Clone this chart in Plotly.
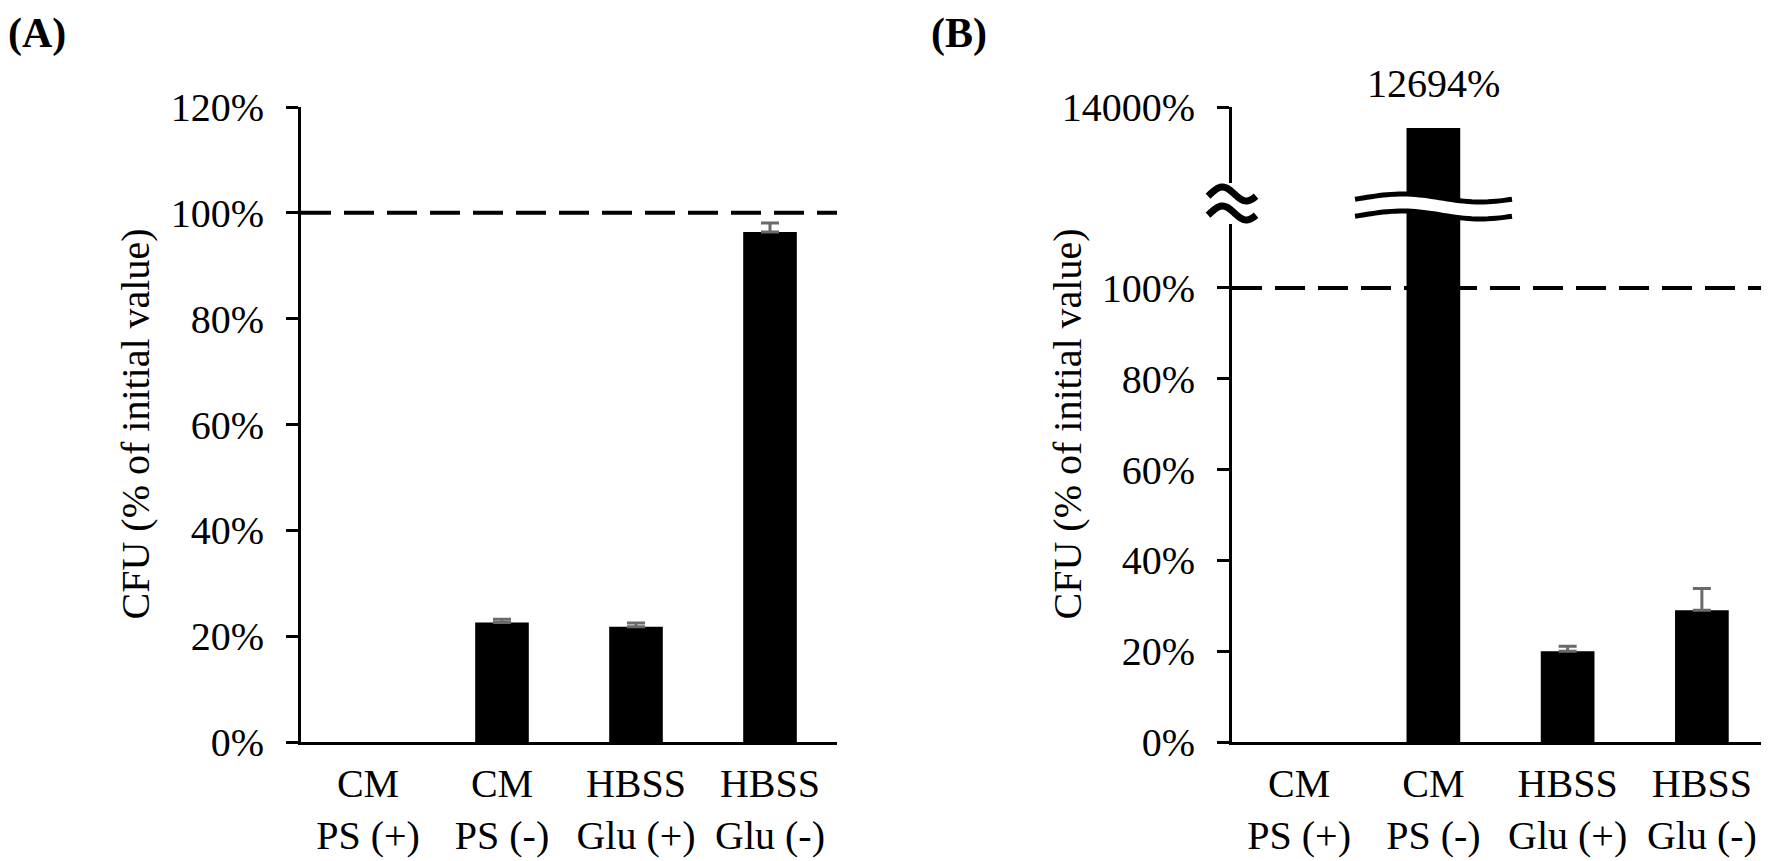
import numpy as np
import plotly.graph_objects as go

# ---- data ----
categories = ["CM<br>PS (+)", "CM<br>PS (-)", "HBSS<br>Glu (+)", "HBSS<br>Glu (-)"]

cfu_a = [0.0, 22.6, 21.8, 96.4]
err_a = [None, 0.6, 0.7, 1.7]

cfu_b = [0.0, 12694.0, 20.0, 29.0]
err_b = [None, None, 1.1, 4.8]

ticks_a = [0, 20, 40, 60, 80, 100, 120]
ticks_b_low = [0, 20, 40, 60, 80, 100]
ticks_b_high = [14000]
ref_line = 100

# the page body has an 8px margin, so the figure is shrunk by it and
# every screen position below is shifted back by OFF
OFF = 8
W, H = 1769 - OFF, 861 - OFF
FONT = "Liberation Serif"
ERR_COLOR = "#6a6a6a"


def px(x):
    return (x - OFF) / W


def py(y):
    return 1 - (y - OFF) / H


def pct(vals):
    return [f"{v}%" for v in vals]


def curve(x0, x1, yc, amp, n=40):
    # sine stroke in screen pixels, returned as paper coords
    t = np.linspace(0, 1, n)
    xs = x0 + (x1 - x0) * t
    ys = yc - amp * np.sin(2 * np.pi * (t - 0.05))
    return [(px(a), py(b)) for a, b in zip(xs, ys)]


def path_of(pts, close=False):
    s = "M " + " L ".join(f"{a:.5f},{b:.5f}" for a, b in pts)
    return s + (" Z" if close else "")


fig = go.Figure()

bar_style = dict(marker=dict(color="black", line=dict(width=0)), showlegend=False,
                 hoverinfo="skip")


def add_panel(vals, errs, xa, ya):
    fig.add_trace(go.Bar(x=categories, y=vals, xaxis=xa, yaxis=ya, **bar_style))
    # invisible copy that only carries the (upper) error bars
    fig.add_trace(go.Bar(
        x=categories, y=[v if e is not None else None for v, e in zip(vals, errs)],
        xaxis=xa, yaxis=ya, showlegend=False, hoverinfo="skip",
        marker=dict(color="rgba(0,0,0,0)", line=dict(width=0)),
        error_y=dict(type="data", symmetric=False, array=errs,
                     arrayminus=[0] * len(errs), color=ERR_COLOR,
                     thickness=3, width=9)))


add_panel(cfu_a, err_a, "x", "y")
add_panel(cfu_b, err_b, "x2", "y2")
# upper part of the broken B axis
fig.add_trace(go.Bar(x=categories, y=cfu_b, xaxis="x2", yaxis="y3", **bar_style))

axis_common = dict(showline=True, linecolor="black", linewidth=3, showgrid=False,
                   zeroline=False, automargin=False,
                   tickfont=dict(family=FONT, size=40, color="black"))
yaxis_common = dict(ticks="outside", ticklen=12, tickwidth=3, tickcolor="black",
                    ticklabelstandoff=14, **axis_common)
xaxis_common = dict(type="category", ticks="", fixedrange=True,
                    ticklabelstandoff=4, **axis_common)

fig.update_layout(
    template="none",
    width=W, height=H,
    margin=dict(l=0, r=0, t=0, b=0, pad=0),
    paper_bgcolor="white", plot_bgcolor="white",
    barmode="overlay", bargap=0.6,
    font=dict(family=FONT, color="black"),
    xaxis=dict(domain=[px(301), px(837)], anchor="y", **xaxis_common),
    yaxis=dict(domain=[py(742), py(107)], anchor="x", range=[0, 120],
               tickvals=ticks_a, ticktext=pct(ticks_a), **yaxis_common),
    xaxis2=dict(domain=[px(1232), 1.0], anchor="y2", **xaxis_common),
    yaxis2=dict(domain=[py(742), py(203)], anchor="x2", range=[0, 118.7],
                tickvals=ticks_b_low, ticktext=pct(ticks_b_low), **yaxis_common),
    yaxis3=dict(domain=[py(203), py(107)], anchor="x2", range=[8030, 14000],
                tickvals=ticks_b_high, ticktext=pct(ticks_b_high), **yaxis_common),
)

# 100 % reference lines
dash = dict(color="black", width=4, dash="30px,13px")
fig.add_shape(type="line", xref="x domain", yref="y", x0=0, x1=1,
              y0=ref_line, y1=ref_line, line=dash)
fig.add_shape(type="line", xref="x2 domain", yref="y2", x0=0, x1=1,
              y0=ref_line, y1=ref_line, line=dash)

# axis break mark on the B axis
fig.add_shape(type="rect", xref="paper", yref="paper",
              x0=px(1222), x1=px(1242), y0=py(224), y1=py(183),
              fillcolor="white", line=dict(width=0), layer="above")
for yc in (194, 213):
    fig.add_shape(type="path", xref="paper", yref="paper",
                  path=path_of(curve(1208, 1256, yc, 7)),
                  line=dict(color="black", width=7), layer="above")

# break through the tall bar
upper = curve(1355, 1512, 198, 4)
lower = curve(1355, 1512, 215, 4)
fig.add_shape(type="path", xref="paper", yref="paper",
              path=path_of(upper + lower[::-1], close=True),
              fillcolor="white", line=dict(width=0), layer="above")
for pts in (upper, lower):
    fig.add_shape(type="path", xref="paper", yref="paper", path=path_of(pts),
                  line=dict(color="black", width=5), layer="above")

# value label of the broken bar
fig.add_annotation(x=categories[1], y=cfu_b[1], xref="x2", yref="y3",
                   text=f"{cfu_b[1]:.0f}%", showarrow=False, yanchor="bottom",
                   yshift=20, font=dict(family=FONT, size=40, color="black"))

# y titles
for xc in (135, 1067):
    fig.add_annotation(x=px(xc), y=py(424.5), xref="paper", yref="paper",
                       text="CFU (% of initial value)", textangle=-90,
                       showarrow=False, xanchor="center", yanchor="middle",
                       font=dict(family=FONT, size=40, color="black"))

# panel letters
for xl, lab in ((OFF, "(A)"), (931, "(B)")):
    fig.add_annotation(x=px(xl), y=1.0, xref="paper", yref="paper",
                       text=f"<b>{lab}</b>", showarrow=False,
                       xanchor="left", yanchor="top", xshift=-2, yshift=0,
                       font=dict(family=FONT, size=42, color="black"))

fig.write_html("out.html")
